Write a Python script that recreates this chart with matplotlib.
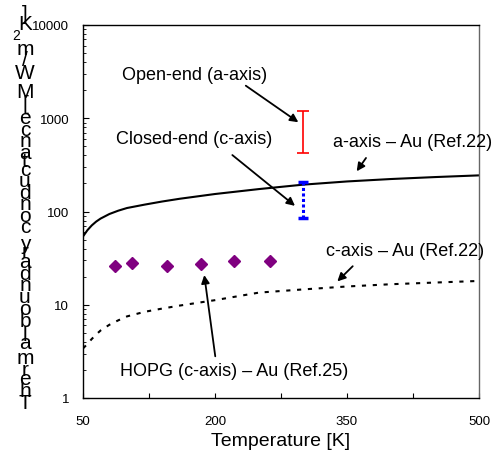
import matplotlib
matplotlib.use("Agg")
import matplotlib.pyplot as plt
from matplotlib import font_manager, ft2font

plt.rcParams['font.family'] = ['Liberation Sans', 'DejaVu Sans']

# model curves (Ref.22)
temp_model = [50, 55, 60, 65, 70, 80, 90, 100, 120, 140, 160, 200, 250, 300, 350, 400, 450, 500]
a_axis_au = [54, 63, 71, 78, 84, 94, 102, 109, 118.5, 128, 137, 154, 174, 194, 210, 223, 234, 244]
c_axis_au = [3.4, 3.8, 4.3, 4.8, 5.3, 6.1, 6.8, 7.5, 8.4, 9.1, 9.8, 11.2, 13.5, 14.6, 15.7, 16.6, 17.3, 18.0]

# HOPG (c-axis) - Au (Ref.25)
temp_hopg = [86, 106, 145, 184, 222, 262]
g_hopg = [25.8, 28.0, 26.2, 27.4, 29.2, 29.7]

# measured ranges at 300 K
temp_meas = 300
open_end = (424, 1205)    # a-axis, low/high
closed_end = (85, 209)    # c-axis, low/high

xticks = [50, 125, 200, 275, 350, 425, 500]
xticklabels = ['50', '', '200', '', '350', '', '500']
yticks = [1, 10, 100, 1000, 10000]
yticklabels = ['1', '10', '100', '1000', '10000']

ylabel = "Thermal boundary conductance [MW/m2K]"

W, H = 496, 456
fig = plt.figure(figsize=(W / 100, H / 100), dpi=100)
ax = fig.add_axes([83 / W, 57 / H, 396 / W, 373 / H])

ax.plot(temp_model, a_axis_au, color='black', lw=1.5)
ax.plot(temp_model, c_axis_au, color='black', lw=1.5, ls=(0, (2, 3.2)))
ax.plot(temp_hopg, g_hopg, ls='none', marker='D', ms=6, color='#800080')


def err_bar(lo_hi, color, **kw):
    lo, hi = lo_hi
    mid = (lo + hi) / 2
    return ax.errorbar([temp_meas], [mid], yerr=[[mid - lo], [hi - mid]],
                       fmt='none', ecolor=color, **kw)


err_bar(open_end, 'red', elinewidth=1.2, capsize=4, capthick=1.2)
eb = err_bar(closed_end, 'blue', elinewidth=2.2, capsize=3.5, capthick=2.5)
eb[2][0].set_linestyle((0, (1, 0.8)))

ax.set_yscale('log')
ax.set_xlim(50, 500)
ax.set_ylim(1, 10000)
ax.set_xticks(xticks)
ax.set_xticklabels(xticklabels)
ax.set_yticks(yticks)
ax.set_yticklabels(yticklabels)
ax.tick_params(which='both', direction='in', labelsize=9.5)
ax.tick_params(axis='x', length=3.5, pad=12)
ax.tick_params(axis='y', which='major', length=4, pad=10)
ax.tick_params(axis='y', which='minor', length=2.5)
ax.xaxis.set_minor_locator(matplotlib.ticker.NullLocator())
for s in ax.spines.values():
    s.set_linewidth(1.0)
ax.spines['right'].set_color('#666666')
ax.set_xlabel("Temperature [K]", fontsize=14, labelpad=4)

# annotations: text and arrows
arrow = dict(arrowstyle='-|>', color='black', lw=1.3, mutation_scale=12,
             shrinkA=0, shrinkB=0)
notes = [
    ("Open-end (a-axis)", (177, 2982), (235, 2234), (294.7, 906)),
    ("Closed-end (c-axis)", (176, 609), (219.7, 403), (290.9, 115)),
    ("a-axis \u2013 Au (Ref.22)", (424, 561), (371.6, 375), (361, 270)),
    ("c-axis \u2013 Au (Ref.22)", (416, 38), (356.5, 25.9), (339, 17.8)),
    ("HOPG (c-axis) \u2013 Au (Ref.25)", (222, 1.96), (200.3, 2.8), (187.8, 20.8)),
]
for label, txt_xy, tail, head in notes:
    ax.text(*txt_xy, label, fontsize=13, ha='center', va='center', clip_on=False)
    ax.annotate('', xy=head, xytext=tail, arrowprops=arrow)

# y label: upright glyphs stacked along a vertical baseline
font = ft2font.FT2Font(font_manager.findfont('Liberation Sans'))
font.set_size(100, 72)
adv = []
for ch in ylabel:
    a = font.load_char(ord(ch)).horiAdvance / 64 / 100
    if ch == '2':
        a *= 0.7
    adv.append(a)
centers = []
cum = 0
for a in adv:
    centers.append(cum + a / 2)
    cum += a
y_bot, y_top = 404, 15
scale = (y_bot - y_top) / (centers[-1] - centers[0])
for ch, c in zip(ylabel, centers):
    y_px = y_bot - (c - centers[0]) * scale
    if ch == '2':
        fig.text(16 / W, 1 - y_px / H, ch, fontsize=10, ha='center', va='center')
    else:
        fig.text(25 / W, 1 - y_px / H, ch, fontsize=15, ha='center', va='center')

fig.savefig('out.png', dpi=100)
